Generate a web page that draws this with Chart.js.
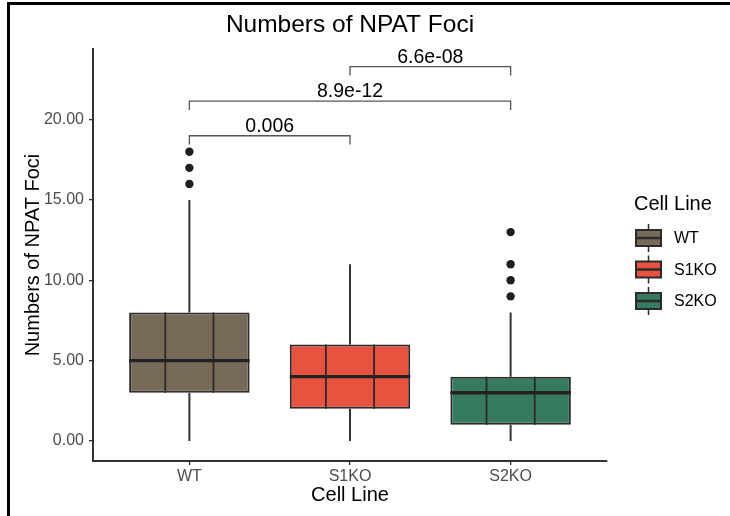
<!DOCTYPE html>
<html>
<head>
<meta charset="utf-8">
<script src="https://cdn.jsdelivr.net/npm/chart.js@4/dist/chart.umd.min.js"></script>
<style>
  html, body { margin: 0; padding: 0; background: #ffffff; }
  canvas { display: block; }
</style>
</head>
<body>
<canvas id="c" width="730" height="516"></canvas>
<script>
// ---- data ----
const categories = ['WT', 'S1KO', 'S2KO'];
const q1 = [3, 2, 1];
const median = [5, 4, 3];
const q3 = [8, 6, 4];
const whiskerLow = [0, 0, 0];
const whiskerHigh = [15, 11, 8];
const outliersWT = [16, 17, 18];
const outliersS1KO = [];
const outliersS2KO = [9, 10, 11, 13];
const yTicks = [0, 5, 10, 15, 20];
const compareFrom = [0, 0, 1];
const compareTo = [1, 2, 2];
const pValues = ['0.006', '8.9e-12', '6.6e-08'];
const bracketY = [19, 21.15, 23.3];
const fillColors = ['#786a58', '#e8523e', '#367a5f'];

const FONT = '"Liberation Sans", Arial, Helvetica, sans-serif';
const EDGE = '#2b2b2b';

const outlierPoints = [];
[outliersWT, outliersS1KO, outliersS2KO].forEach((arr, i) => {
  arr.forEach(v => outlierPoints.push({ x: i + 1, y: v }));
});

function txt(ctx, text, x, y, size, align, baseline, color) {
  ctx.save();
  ctx.font = size + 'px ' + FONT;
  ctx.fillStyle = color || '#000000';
  ctx.textAlign = align;
  ctx.textBaseline = baseline;
  ctx.fillText(text, x, y);
  ctx.restore();
}

const boxPlugin = {
  id: 'boxExtras',
  beforeDraw(chart) {
    const ctx = chart.ctx;
    ctx.save();
    ctx.fillStyle = '#ffffff';
    ctx.fillRect(0, 0, chart.width, chart.height);
    ctx.fillStyle = '#000000';
    ctx.fillRect(7, 2, chart.width - 7, 3);
    ctx.fillRect(7, 2, 3, chart.height - 2);
    ctx.restore();
  },
  beforeDatasetsDraw(chart) {
    const ctx = chart.ctx;
    const xs = chart.scales.x, ys = chart.scales.y;
    ctx.save();
    ctx.strokeStyle = '#333333';
    ctx.lineWidth = 2;
    categories.forEach((c, i) => {
      const x = xs.getPixelForValue(i + 1);
      ctx.beginPath();
      ctx.moveTo(x, ys.getPixelForValue(q3[i]));
      ctx.lineTo(x, ys.getPixelForValue(whiskerHigh[i]));
      ctx.moveTo(x, ys.getPixelForValue(q1[i]));
      ctx.lineTo(x, ys.getPixelForValue(whiskerLow[i]));
      ctx.stroke();
    });
    ctx.restore();
  },
  afterDatasetsDraw(chart) {
    const ctx = chart.ctx;
    const xs = chart.scales.x, ys = chart.scales.y;
    const meta = chart.getDatasetMeta(0);
    ctx.save();
    categories.forEach((c, i) => {
      const bar = meta.data[i];
      const half = bar.width / 2;
      const left = bar.x - half, w = bar.width;
      const top = ys.getPixelForValue(q3[i]), bot = ys.getPixelForValue(q1[i]);
      ctx.strokeStyle = EDGE;
      ctx.lineWidth = 1.8;
      ctx.beginPath();
      [0.3, 0.7].forEach(f => {
        ctx.moveTo(left + w * f, top);
        ctx.lineTo(left + w * f, bot);
      });
      ctx.stroke();
      ctx.lineWidth = 3.4;
      ctx.strokeStyle = '#222222';
      const my = ys.getPixelForValue(median[i]);
      ctx.beginPath();
      ctx.moveTo(left, my);
      ctx.lineTo(left + w, my);
      ctx.stroke();
    });
    ctx.strokeStyle = '#555555';
    ctx.lineWidth = 1.3;
    pValues.forEach((p, k) => {
      const xa = xs.getPixelForValue(compareFrom[k] + 1);
      const xb = xs.getPixelForValue(compareTo[k] + 1);
      const y = ys.getPixelForValue(bracketY[k]);
      const yt = ys.getPixelForValue(bracketY[k] - 0.55);
      ctx.beginPath();
      ctx.moveTo(xa, yt);
      ctx.lineTo(xa, y);
      ctx.lineTo(xb, y);
      ctx.lineTo(xb, yt);
      ctx.stroke();
      txt(ctx, p, (xa + xb) / 2, y - 4, 19.5, 'center', 'alphabetic');
    });
    ctx.restore();
  },
  afterDraw(chart) {
    const ctx = chart.ctx;
    const ca = chart.chartArea;
    const cx = (ca.left + ca.right) / 2;
    txt(ctx, 'Numbers of NPAT Foci', cx, 25, 24.5, 'center', 'middle');
    txt(ctx, 'Cell Line', cx, 495, 20, 'center', 'middle');
    ctx.save();
    ctx.translate(33, (ca.top + ca.bottom) / 2);
    ctx.rotate(-Math.PI / 2);
    txt(ctx, 'Numbers of NPAT Foci', 0, 0, 20, 'center', 'middle');
    ctx.restore();
    // legend
    txt(ctx, 'Cell Line', 634, 204, 20, 'left', 'middle');
    const keyX = 636, keyW = 25, keyH = 16;
    ctx.save();
    categories.forEach((c, i) => {
      const cy = 238 + i * 31.5;
      ctx.strokeStyle = EDGE;
      ctx.lineWidth = 1.5;
      ctx.beginPath();
      ctx.moveTo(keyX + keyW / 2, cy - 14);
      ctx.lineTo(keyX + keyW / 2, cy + 14);
      ctx.stroke();
      ctx.fillStyle = fillColors[i];
      ctx.fillRect(keyX, cy - keyH / 2, keyW, keyH);
      ctx.lineWidth = 2;
      ctx.strokeRect(keyX, cy - keyH / 2, keyW, keyH);
      ctx.lineWidth = 2.5;
      ctx.beginPath();
      ctx.moveTo(keyX, cy);
      ctx.lineTo(keyX + keyW, cy);
      ctx.stroke();
      txt(ctx, c, 674, cy + 1, 16, 'left', 'middle');
    });
    ctx.restore();
  }
};

new Chart(document.getElementById('c'), {
  type: 'bar',
  data: {
    datasets: [
      {
        type: 'bar',
        data: categories.map((c, i) => ({ x: i + 1, y: [q1[i], q3[i]] })),
        backgroundColor: fillColors,
        borderColor: EDGE,
        borderWidth: 2,
        borderSkipped: false,
        categoryPercentage: 0.75,
        barPercentage: 1.0
      },
      {
        type: 'scatter',
        data: outlierPoints,
        pointRadius: 4.2,
        pointBackgroundColor: '#1f1f1f',
        pointBorderWidth: 0
      }
    ]
  },
  options: {
    responsive: false,
    devicePixelRatio: 1,
    animation: false,
    layout: { padding: { left: 0, top: 49, right: 123, bottom: 0 } },
    plugins: { legend: { display: false }, title: { display: false }, tooltip: { enabled: false } },
    scales: {
      x: {
        type: 'linear',
        offset: false,
        min: 0.4,
        max: 3.6,
        afterBuildTicks: s => { s.ticks = categories.map((c, i) => ({ value: i + 1 })); },
        afterFit: s => { s.height = 55; },
        ticks: {
          callback: v => categories[v - 1],
          color: '#4d4d4d',
          font: { family: FONT, size: 16 },
          padding: 2
        },
        grid: { display: true, offset: false, drawOnChartArea: false, drawTicks: true, tickLength: 4, color: '#333333', lineWidth: 1.3 },
        border: { display: true, color: '#333333', width: 2 }
      },
      y: {
        type: 'linear',
        min: -1.25,
        max: 24.4,
        afterBuildTicks: s => { s.ticks = yTicks.map(v => ({ value: v })); },
        afterFit: s => { s.width = 93; },
        ticks: {
          callback: v => v.toFixed(2),
          color: '#4d4d4d',
          font: { family: FONT, size: 16 },
          padding: 5
        },
        grid: { display: true, drawOnChartArea: false, drawTicks: true, tickLength: 4, color: '#333333', lineWidth: 1.3 },
        border: { display: true, color: '#333333', width: 2 }
      }
    }
  },
  plugins: [boxPlugin]
});
</script>
</body>
</html>
